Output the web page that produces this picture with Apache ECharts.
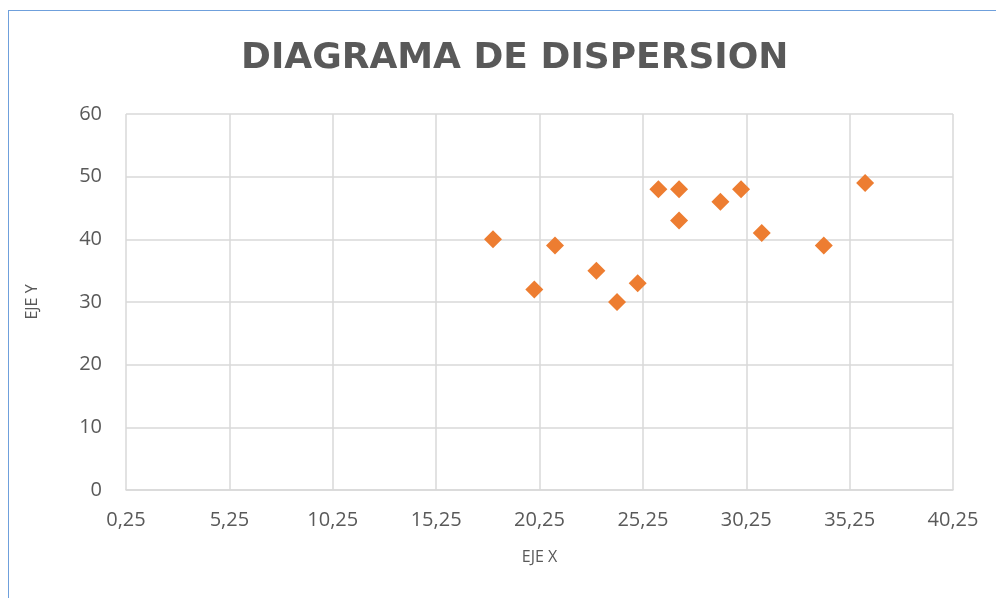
<!DOCTYPE html>
<html>
<head>
<meta charset="utf-8">
<script src="https://cdn.jsdelivr.net/npm/echarts@6/dist/echarts.min.js"></script>
<style>
  html, body { margin: 0; padding: 0; background: #fff; }
  #wrap { position: relative; width: 996px; height: 598px; overflow: hidden; }
  #chart { width: 996px; height: 598px; }
  .frame {
    position: absolute; left: 8px; top: 10px; width: 1000px; height: 600px;
    border-top: 1.5px solid #6fa0dc; border-left: 1.5px solid #6fa0dc;
    pointer-events: none;
  }
</style>
</head>
<body>
<div id="wrap">
  <div id="chart"></div>
  <div class="frame"></div>
</div>
<script>
// datos
var xValues = [18, 20, 21, 23, 24, 25, 26, 27, 27, 29, 30, 31, 34, 36];
var yValues = [40, 32, 39, 35, 30, 33, 48, 48, 43, 46, 48, 41, 39, 49];
// el eje X empieza en 0,25 y avanza de 5 en 5
var xStart = 0.25;
var xEnd = 40.25;
var xStep = 5;
var yTicks = [0, 10, 20, 30, 40, 50, 60];

var textColor = "#595959";
var gridColor = "#d9d9d9";

// los ticks se cuentan desde 0, asi que el eje va desplazado en xStart
var points = xValues.map(function(x, i) {
  return [x - xStart, yValues[i]];
});

var myChart = echarts.init(document.getElementById("chart"));
var option = {
  backgroundColor: "#ffffff",
  animation: false,
  title: {
    text: "DIAGRAMA DE DISPERSION",
    left: 236,
    top: 36,
    textStyle: {
      fontFamily: "DejaVu Sans",
      fontWeight: "bold",
      fontSize: 36,
      color: textColor
    }
  },
  grid: {
    left: 126,
    right: 43,
    top: 114,
    bottom: 108
  },
  xAxis: {
    type: "value",
    min: 0,
    max: xEnd - xStart,
    interval: xStep,
    name: "EJE X",
    nameLocation: "middle",
    nameGap: 59,
    nameTextStyle: { fontFamily: "Open Sans", fontSize: 16, color: textColor },
    axisLine: { show: true, lineStyle: { color: gridColor, width: 1.5 } },
    axisTick: { show: false },
    axisLabel: {
      margin: 20,
      fontFamily: "Open Sans",
      fontSize: 20,
      color: textColor,
      formatter: function(v) {
        return (v + xStart).toFixed(2).replace(".", ",");
      }
    },
    splitLine: { show: true, lineStyle: { color: gridColor, width: 1.5 } }
  },
  yAxis: {
    type: "value",
    min: yTicks[0],
    max: yTicks[yTicks.length - 1],
    interval: yTicks[1] - yTicks[0],
    name: "EJE Y",
    nameLocation: "middle",
    nameGap: 86,
    nameRotate: 90,
    nameTextStyle: { fontFamily: "Open Sans", fontSize: 16, color: textColor },
    axisLine: { show: false },
    axisTick: { show: false },
    axisLabel: {
      margin: 24,
      fontFamily: "Open Sans",
      fontSize: 20,
      color: textColor
    },
    splitLine: { show: true, lineStyle: { color: gridColor, width: 1.5 } }
  },
  series: [
    {
      type: "scatter",
      symbol: "diamond",
      symbolSize: 18,
      itemStyle: { color: "#ED7D31", opacity: 1 },
      data: points
    }
  ]
};
myChart.setOption(option);
</script>
</body>
</html>
